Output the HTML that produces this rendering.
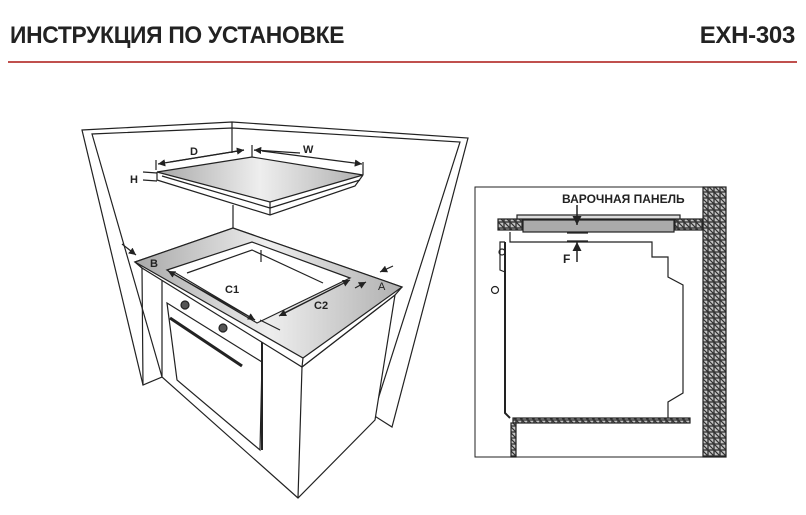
<!DOCTYPE html>
<html><head><meta charset="utf-8"><style>
body{margin:0;background:#fff;width:806px;height:515px;overflow:hidden;position:relative;font-family:"Liberation Sans","DejaVu Sans",sans-serif}
.h{position:absolute;top:22px;font-size:24px;font-weight:bold;color:#222;letter-spacing:-0.3px;white-space:nowrap}
</style></head><body>
<div class="h" style="left:10px;transform:scaleX(0.95);transform-origin:left">ИНСТРУКЦИЯ ПО УСТАНОВКЕ</div>
<div class="h" style="right:11px;transform:scaleX(1.0);transform-origin:right">EXH-303</div>
<div style="position:absolute;left:8px;top:61px;width:789px;height:2px;background:#c0504d"></div>
<svg width="806" height="515" style="position:absolute;left:0;top:0" fill="none" stroke="#222" stroke-width="1.2" font-family="Liberation Sans, sans-serif">
<defs>
<linearGradient id="g" x1="0" x2="1" y1="0" y2="0"><stop offset="0" stop-color="#a8a8a8"/><stop offset="0.5" stop-color="#eee"/><stop offset="1" stop-color="#b0b0b0"/></linearGradient>
<pattern id="hp" width="6" height="6" patternUnits="userSpaceOnUse"><rect width="6" height="6" fill="#c4c4c4"/><path d="M0,0L6,6M-1,5L1,7M5,-1L7,1" stroke="#333" stroke-width="1.2"/></pattern>
<marker id="a" viewBox="0 0 10 10" refX="10" refY="5" markerWidth="6" markerHeight="6" orient="auto"><path d="M0,0L10,5L0,10z" fill="#222" stroke="none"/></marker>
</defs>
<!-- walls -->
<path d="M82,130 L232,122 L468,138 L392,427 L373,415 L460,142 L232,128 L92,134 L162,377 L143,385 Z" fill="#fff"/>
<line x1="232" y1="122" x2="232" y2="153"/><line x1="233" y1="205" x2="233" y2="230"/>
<!-- hob -->
<path d="M157,172 L157,180 L270,215 L355,186 L363,175" fill="#fff"/>
<path d="M157,172 L252,157 L363,175 L270,202 Z" fill="url(#g)"/>
<line x1="162" y1="176" x2="270" y2="208"/><line x1="270" y1="208" x2="360" y2="180"/>
<line x1="270" y1="202" x2="270" y2="215"/>
<line x1="143" y1="172" x2="157" y2="173"/><line x1="143" y1="180" x2="157" y2="181"/>
<text x="130" y="183" font-size="11" font-weight="bold" fill="#222" stroke="none">H</text>
<line x1="156" y1="160" x2="156" y2="170"/><line x1="363" y1="162" x2="363" y2="175"/><line x1="252" y1="145" x2="252" y2="157"/>
<line x1="170" y1="162" x2="244" y2="150" marker-end="url(#a)"/><line x1="244" y1="150" x2="158" y2="164" marker-end="url(#a)"/>
<line x1="300" y1="153" x2="254" y2="150" marker-end="url(#a)"/><line x1="262" y1="151" x2="362" y2="164" marker-end="url(#a)"/>
<text x="190" y="155" font-size="11" font-weight="bold" fill="#222" stroke="none">D</text>
<text x="303" y="153" font-size="11" font-weight="bold" fill="#222" stroke="none">W</text>
<!-- cabinet -->
<path d="M142,268 L162,277 L162,377 L298,498 L375,420 L395,295" fill="#fff"/>
<path d="M142,268 L143,385 M162,277 L302,367 L298,498 M302,367 L395,295"/>
<path d="M167,303 L262,362 L260,450 L177,380 Z" fill="#fff"/>
<line x1="262" y1="330" x2="262" y2="450" stroke-width="2"/>
<line x1="170" y1="318" x2="242" y2="366" stroke-width="3"/>
<circle cx="185" cy="305" r="4" fill="#555"/><circle cx="223" cy="328" r="4" fill="#555"/>
<!-- countertop -->
<path d="M135,262 L233,228 L402,287 L395,295 L302,367 L142,268 Z" fill="#fff"/>
<path d="M135,262 L233,228 L402,287 L303,358 Z" fill="url(#g)"/>
<path d="M135,262 L142,268 M303,358 L302,367"/>
<path d="M167,270 L252,242 L350,278 L257,323 Z" fill="#fff"/>
<path d="M187,273 L252,250 L323,283" /><line x1="261" y1="250" x2="261" y2="262"/>
<line x1="174" y1="272" x2="255" y2="320" marker-end="url(#a)"/><line x1="255" y1="320" x2="168" y2="271" marker-end="url(#a)"/>
<line x1="260" y1="320" x2="280" y2="330"/>
<line x1="280" y1="315" x2="350" y2="280" marker-end="url(#a)"/><line x1="340" y1="285" x2="279" y2="316" marker-end="url(#a)"/>
<line x1="355" y1="288" x2="366" y2="282" marker-end="url(#a)"/><line x1="393" y1="266" x2="380" y2="272" marker-end="url(#a)"/>
<line x1="122" y1="244" x2="136" y2="255" marker-end="url(#a)"/>
<text x="150" y="267" font-size="11" font-weight="bold" fill="#222" stroke="none">B</text>
<text x="378" y="290" font-size="11" fill="#222" stroke="none">A</text>
<text x="225" y="293" font-size="11" font-weight="bold" fill="#222" stroke="none">C1</text>
<text x="314" y="309" font-size="11" font-weight="bold" fill="#222" stroke="none">C2</text>
<!-- right panel -->
<rect x="475" y="187" width="251" height="270" stroke-width="1"/>
<rect x="703" y="187" width="23" height="270" fill="url(#hp)"/>
<rect x="498" y="219" width="25" height="11" fill="url(#hp)"/>
<rect x="675" y="219" width="28" height="11" fill="url(#hp)"/>
<line x1="523" y1="219" x2="675" y2="219"/>
<rect x="517" y="215" width="163" height="4" fill="#ddd"/>
<rect x="523" y="220" width="151" height="12" fill="#aaa"/>
<text x="562" y="203" font-size="12" font-weight="bold" fill="#222" stroke="none">ВАРОЧНАЯ ПАНЕЛЬ</text>
<line x1="577" y1="205" x2="577" y2="225" stroke-width="1.5" marker-end="url(#a)"/>
<line x1="567" y1="233" x2="588" y2="233"/><line x1="567" y1="241" x2="588" y2="241"/>
<line x1="577" y1="262" x2="577" y2="242" stroke-width="1.5" marker-end="url(#a)"/>
<text x="563" y="263" font-size="12" font-weight="bold" fill="#222" stroke="none">F</text>
<path d="M510,232 L510,242 L652,242 L652,257 L668,257 L668,277 L683,285 L683,393 L668,402 L668,418"/>
<path d="M505,242 L505,413 L510,418" stroke-width="2"/>
<path d="M505,242 L500,242 L500,270 L505,272"/>
<circle cx="502" cy="252" r="3"/><circle cx="495" cy="290" r="3.5"/>
<rect x="513" y="418" width="177" height="5" fill="url(#hp)"/>
<rect x="511" y="423" width="5" height="34" fill="url(#hp)"/>
</svg>
</body></html>
